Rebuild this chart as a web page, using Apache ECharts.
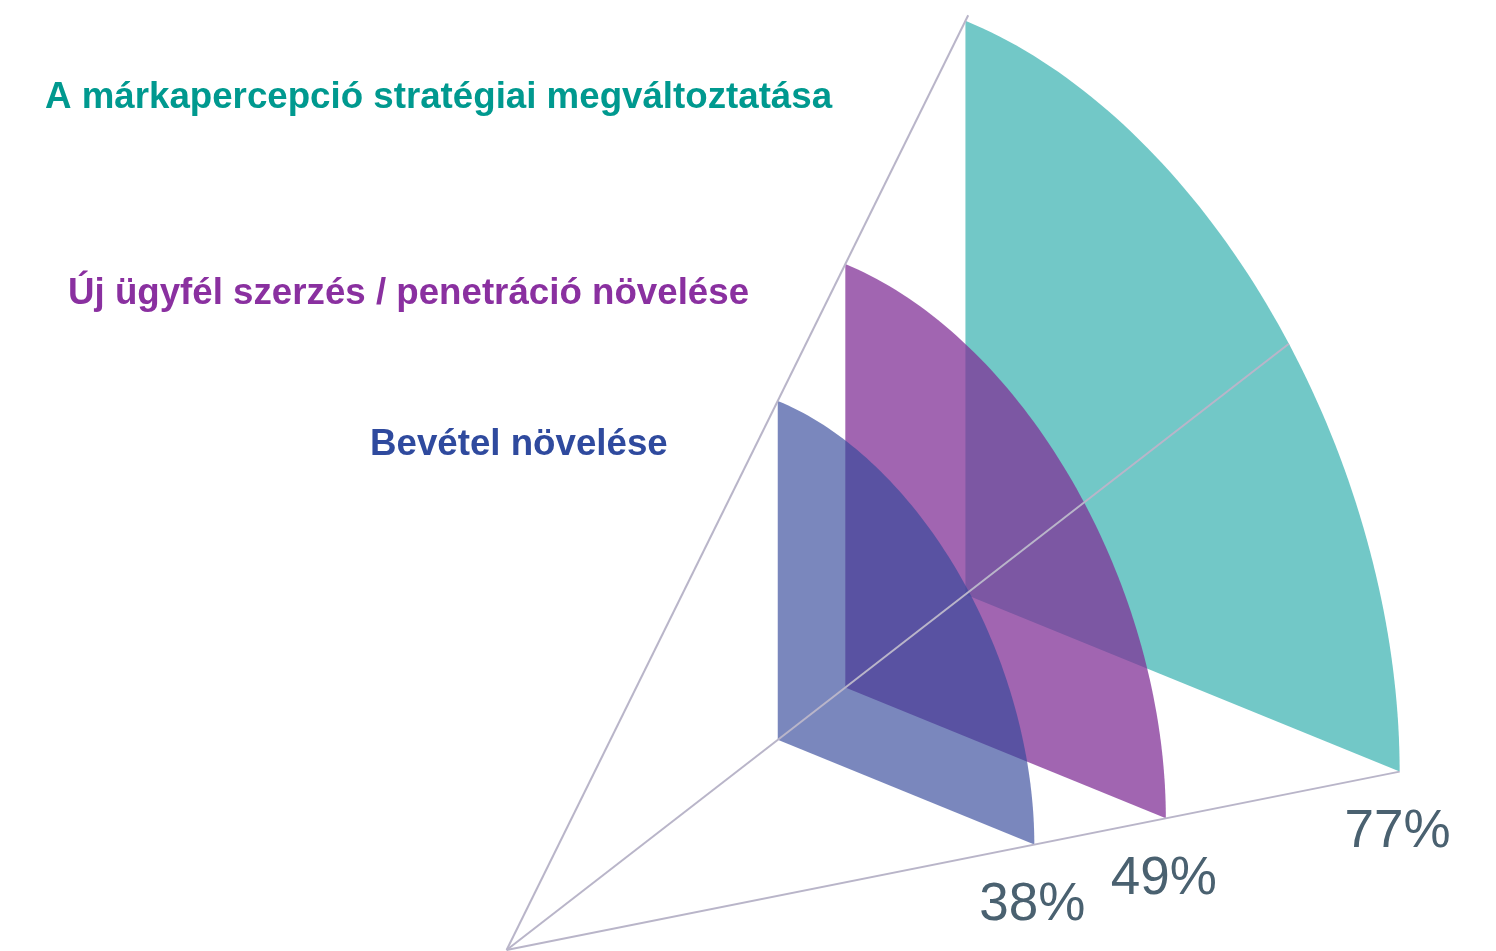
<!DOCTYPE html>
<html><head><meta charset="utf-8">
<script src="https://cdn.jsdelivr.net/npm/echarts/dist/echarts.min.js"></script>
<style>html,body{margin:0;padding:0;background:#fff}#c{width:1496px;height:951px}</style>
</head><body><div id="c"></div>
<script>
// ---- data ----
const categories = ['A márkapercepció stratégiai megváltoztatása', 'Új ügyfél szerzés / penetráció növelése', 'Bevétel növelése'];
const values = [77, 49, 38];
const valueLabels = ['77%', '49%', '38%'];

// ---- styles ----
const palette = ['#72C8C7', 'rgba(128,47,150,0.74)', 'rgba(52,72,154,0.655)'];
const titleColors = ['#00998F', '#8A30A0', '#2F4A9E'];
const titlePos = [[45, 98], [68, 294], [370, 445]];
const APEX = 13.7;             // value at which the cone's apex sits (log scale)
const DIR = [0.80, -0.62];     // depth direction (per unit radius)
const VR = [0.757, 0.309];     // receding horizontal edge
const UP = [0, -1];            // vertical edge
const FONT = '"Liberation Sans", Arial, sans-serif';

const det = VR[0] * UP[1] - VR[1] * UP[0];
const da = (DIR[0] * UP[1] - DIR[1] * UP[0]) / det;
const db = (VR[0] * DIR[1] - VR[1] * DIR[0]) / det;
const diagS = 1 + 1 / Math.hypot(da, db);

const chart = echarts.init(document.getElementById('c'), null, {renderer: 'canvas'});

function geom(api, v) {
  const o = api.coord([APEX, 0]);
  const R = api.coord([v, 0])[0] - o[0];
  return {o, R, c: [o[0] + R * DIR[0], o[1] + R * DIR[1]]};
}

function renderSector(params, api) {
  const idx = params.dataIndex;
  const g = geom(api, api.value(0));
  const {R, c} = g;
  const pts = [[c[0], c[1]]];
  const N = 80;
  for (let i = 0; i <= N; i++) {
    const t = Math.PI / 2 * i / N, cs = Math.cos(t), sn = Math.sin(t);
    pts.push([c[0] + R * (cs * VR[0] + sn * UP[0]), c[1] + R * (cs * VR[1] + sn * UP[1])]);
  }
  const rx = c[0] + R * VR[0], ry = c[1] + R * VR[1];
  return {
    type: 'group',
    children: [
      {type: 'polygon', shape: {points: pts}, style: {fill: palette[idx]}},
      {type: 'text', x: rx - 2, y: ry + 61,
       style: {text: valueLabels[idx], fontSize: 53, fontFamily: FONT, fill: '#4A6170', align: 'center', verticalAlign: 'middle'}}
    ]
  };
}

function renderFrame(params, api) {
  const g = geom(api, api.value(0));
  const {o, R} = g;
  const st = {stroke: '#B9B5C9', lineWidth: 2};
  const top = [o[0] + 1.006 * R * (DIR[0] + UP[0]), o[1] + 1.006 * R * (DIR[1] + UP[1])];
  const right = [o[0] + R * (DIR[0] + VR[0]), o[1] + R * (DIR[1] + VR[1])];
  const diag = [o[0] + diagS * R * DIR[0], o[1] + diagS * R * DIR[1]];
  return {
    type: 'group',
    children: [
      {type: 'line', shape: {x1: o[0], y1: o[1], x2: top[0], y2: top[1]}, style: st},
      {type: 'line', shape: {x1: o[0], y1: o[1], x2: right[0], y2: right[1]}, style: st},
      {type: 'line', shape: {x1: o[0], y1: o[1], x2: diag[0], y2: diag[1]}, style: st}
    ]
  };
}

chart.setOption({
  animation: false,
  backgroundColor: '#ffffff',
  grid: {left: 402, width: 765, top: 0, bottom: 1},
  xAxis: {type: 'log', logBase: 10, min: 10, max: 100, show: false},
  yAxis: {type: 'value', min: 0, max: 1, show: false},
  graphic: categories.map((name, i) => ({
    type: 'text', x: titlePos[i][0], y: titlePos[i][1],
    style: {text: name, fontSize: 36.7, fontWeight: 'bold', fontFamily: FONT, fill: titleColors[i], align: 'left', verticalAlign: 'middle'}
  })),
  series: [
    {type: 'custom', renderItem: renderSector, data: values.map(v => [v, 0]), z: 2, silent: true},
    {type: 'custom', renderItem: renderFrame, data: [[Math.max(...values), 0]], z: 3, silent: true}
  ]
});
</script>
</body></html>
